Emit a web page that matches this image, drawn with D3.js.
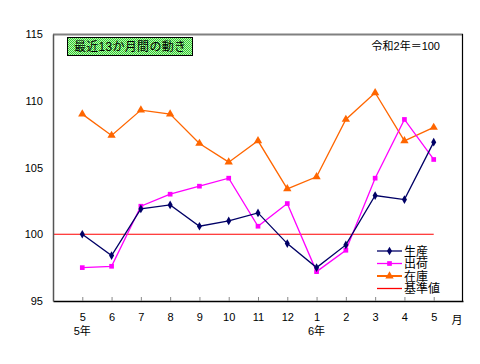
<!DOCTYPE html>
<html><head><meta charset="utf-8">
<script src="https://cdn.jsdelivr.net/npm/d3@7"></script>
<style>
body{margin:0;background:#fff;}
svg text{font-family:"Liberation Sans","Noto Sans CJK JP",sans-serif;}
</style></head>
<body><svg id="c" width="480" height="364"></svg>
<script>
const months = ["5","6","7","8","9","10","11","12","1","2","3","4","5"];
const production = [100.0,98.4,101.9,102.2,100.6,101.0,101.6,99.3,97.5,99.2,102.9,102.6,106.9];
const shipments  = [97.5,97.6,102.1,103.0,103.6,104.2,100.6,102.3,97.2,98.8,104.2,108.6,105.6];
const inventory  = [109.0,107.4,109.3,109.0,106.8,105.4,107.0,103.4,104.3,108.6,110.6,107.0,108.0];
const baseline = 100;
const yTicks = [95,100,105,110,115];
const seriesNames = ["生産","出荷","在庫","基準値"];
const yearLabels = [{i:0,t:"5年"},{i:8,t:"6年"}];

const svg = d3.select("#c");
const L=53,R=463,T=34,B=301;
const x = d3.scaleLinear().domain([-1,13]).range([L,R]);
const y = d3.scaleLinear().domain([95,115]).range([B,T]);

// frame
svg.append("line").attr("x1",L).attr("x2",R).attr("y1",T+0.5).attr("y2",T+0.5).attr("stroke","#808080").attr("stroke-width",2);
svg.append("line").attr("x1",R-0.5).attr("x2",R-0.5).attr("y1",T).attr("y2",B).attr("stroke","#000").attr("stroke-width",1.2);

// baseline
svg.append("line").attr("x1",x(-1)).attr("x2",x(12)).attr("y1",y(baseline)).attr("y2",y(baseline)).attr("stroke","#ff0000").attr("stroke-width",1.2);

// axes
const xAxis = d3.axisBottom(x).tickValues(d3.range(13)).tickFormat(i=>months[i]).tickSizeInner(-4).tickSizeOuter(0).tickPadding(12);
const gx = svg.append("g").attr("transform",`translate(0,${B})`).call(xAxis);
gx.select(".domain").attr("stroke","#000").attr("stroke-width",1.5);
gx.selectAll(".tick line").attr("stroke","#888");
gx.selectAll("text").attr("font-size",11).attr("fill","#000");

const yAxis = d3.axisLeft(y).tickValues(yTicks).tickSize(0).tickPadding(10);
const gy = svg.append("g").attr("transform",`translate(${L},0)`).call(yAxis);
gy.select(".domain").attr("stroke","#555").attr("stroke-width",1.5);
gy.selectAll("text").attr("font-size",11).attr("fill","#000");

// year labels
svg.selectAll(".yl").data(yearLabels).enter().append("text")
  .attr("x",d=>x(d.i)).attr("y",335).attr("text-anchor","middle").attr("font-size",11).text(d=>d.t);
svg.append("text").attr("x",457).attr("y",324).attr("text-anchor","middle").attr("font-size",11).text("月");

// series
const line = d3.line().x((d,i)=>x(i)).y(d=>y(d));
function drawSeries(data,color,shape,size){
  svg.append("path").datum(data).attr("d",line).attr("fill","none").attr("stroke",color).attr("stroke-width",1.3);
  svg.append("g").selectAll("path").data(data).enter().append("path")
    .attr("transform",(d,i)=>`translate(${x(i)},${y(d)})`)
    .attr("d",d3.symbol().type(shape).size(size)).attr("fill",color);
}
drawSeries(inventory,"#ff6600",d3.symbolTriangle,30);
drawSeries(shipments,"#ff00ff",d3.symbolSquare,22);
drawSeries(production,"#000066",d3.symbolDiamond,22);

// title box with checker pattern
const defs = svg.append("defs");
const pat = defs.append("pattern").attr("id","chk").attr("width",2).attr("height",2).attr("patternUnits","userSpaceOnUse");
pat.append("rect").attr("width",2).attr("height",2).attr("fill","#b8f5b0");
pat.append("rect").attr("width",1).attr("height",1).attr("fill","#33cc33");
pat.append("rect").attr("x",1).attr("y",1).attr("width",1).attr("height",1).attr("fill","#33cc33");
svg.append("rect").attr("x",67.5).attr("y",37.5).attr("width",125).attr("height",18).attr("fill","url(#chk)").attr("stroke","#000");
svg.append("text").attr("x",130).attr("y",51).attr("text-anchor","middle").attr("font-size",12).attr("textLength",112).text("最近13か月間の動き");

svg.append("text").attr("x",440).attr("y",50).attr("text-anchor","end").attr("font-size",11).text("令和2年＝100");

// legend
const legColors = ["#000066","#ff00ff","#ff6600","#ff0000"];
const legShapes = [d3.symbolDiamond,d3.symbolSquare,d3.symbolTriangle,null];
seriesNames.forEach((n,k)=>{
  const yy = 251 + k*12.5;
  svg.append("line").attr("x1",377).attr("x2",402).attr("y1",yy).attr("y2",yy).attr("stroke",legColors[k]).attr("stroke-width",k==2?2:1.3);
  if(legShapes[k]) svg.append("path").attr("transform",`translate(389.5,${yy})`).attr("d",d3.symbol().type(legShapes[k]).size(k==2?30:22)).attr("fill",legColors[k]);
  svg.append("text").attr("x",404).attr("y",yy+4.5).attr("font-size",12).text(n);
});
</script></body></html>
